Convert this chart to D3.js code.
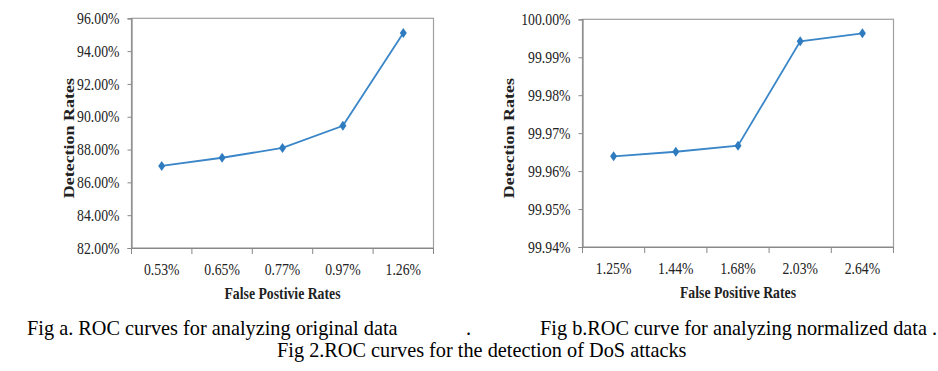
<!DOCTYPE html>
<html>
<head>
<meta charset="utf-8">
<script src="https://cdn.jsdelivr.net/npm/d3@7"></script>
<style>
  body { margin: 0; background: #fff; }
  svg { display: block; font-family: "Liberation Serif", "Times New Roman", serif; }
  .squeeze { transform-box: fill-box; }
</style>
</head>
<body>
<div id="figure"></div>
<script>
// Fig a - original data
let fprA = ['0.53%', '0.65%', '0.77%', '0.97%', '1.26%'];
let detA = [87.0, 87.5, 88.1, 89.45, 95.1];
let yTicksA = [82, 84, 86, 88, 90, 92, 94, 96];

// Fig b - normalized data
let fprB = ['1.25%', '1.44%', '1.68%', '2.03%', '2.64%'];
let detB = [99.9639, 99.9651, 99.9667, 99.9942, 99.9963];
let yTicksB = [99.94, 99.95, 99.96, 99.97, 99.98, 99.99, 100.00];

let captionA = 'Fig a. ROC curves for analyzing original data';
let captionB = 'Fig b.ROC curve for analyzing normalized data .';
let captionMain = 'Fig 2.ROC curves for the detection of DoS attacks';

let serif = 'Liberation Serif, Times New Roman, serif';

let svg = d3.select('#figure')
    .append('svg')
    .attr('width', 938)
    .attr('height', 371);

svg.append('rect').attr('width', 938).attr('height', 371).attr('fill', '#fff');

function squeeze(sel, origin) {
    sel.classed('squeeze', true)
        .style('transform-origin', origin)
        .style('transform', 'scaleX(0.86)');
}

function rocChart(cats, values, yTicks, box, xTitle) {
    let x = d3.scaleBand()
        .domain(cats)
        .range([box.left, box.right]);
    let y = d3.scaleLinear()
        .domain([yTicks[0], yTicks[yTicks.length - 1]])
        .range([box.bottom, box.top]);

    let g = svg.append('g');

    // plot border
    g.append('rect')
        .attr('x', box.left)
        .attr('y', box.top)
        .attr('width', box.right - box.left)
        .attr('height', box.bottom - box.top)
        .attr('fill', 'none')
        .style('stroke', '#a0a0a0')
        .style('stroke-width', 1.2);

    // y axis
    let yAxis = d3.axisLeft(y)
        .tickValues(yTicks)
        .tickSize(4)
        .tickPadding(box.yPad)
        .tickFormat(d => d.toFixed(2) + '%');
    let yg = g.append('g')
        .attr('transform', `translate(${box.left},0)`)
        .call(yAxis)
        .attr('font-family', serif)
        .attr('font-size', 16);
    yg.select('.domain').style('stroke', '#888').style('stroke-width', 1.2);
    yg.selectAll('.tick line').style('stroke', '#888');
    yg.selectAll('.tick text')
        .style('fill', '#222')
        .call(squeeze, 'right center');

    // x axis: labels at band centres, ticks on band edges
    let xAxis = d3.axisBottom(x)
        .tickSize(0)
        .tickPadding(16);
    let xg = g.append('g')
        .attr('transform', `translate(0,${box.bottom})`)
        .call(xAxis)
        .attr('font-family', serif)
        .attr('font-size', 16);
    xg.select('.domain').style('stroke', '#888').style('stroke-width', 1.2);
    xg.selectAll('.tick text')
        .style('fill', '#222')
        .call(squeeze, 'center');
    let edges = cats.map(c => x(c)).concat([x.range()[1]]);
    xg.selectAll('line.edge')
        .data(edges)
        .enter().append('line')
        .attr('class', 'edge')
        .attr('x1', d => d)
        .attr('x2', d => d)
        .attr('y1', 0)
        .attr('y2', 6)
        .style('stroke', '#888');

    // line + diamond markers
    let line = d3.line()
        .x((d, i) => x(cats[i]) + x.bandwidth() / 2)
        .y(d => y(d));
    g.append('path')
        .datum(values)
        .attr('d', line)
        .attr('fill', 'none')
        .style('stroke', '#3a86c8')
        .style('stroke-width', 1.8);
    g.selectAll('path.marker')
        .data(values)
        .enter().append('path')
        .attr('class', 'marker')
        .attr('d', 'M0,-5 L3.5,0 L0,5 L-3.5,0 Z')
        .attr('transform', (d, i) => `translate(${x(cats[i]) + x.bandwidth() / 2},${y(d)})`)
        .attr('fill', '#2f7bc0');

    // axis titles (rotated one squeezed across its height, like the scan)
    g.append('text')
        .attr('transform', `translate(${box.yTitleX},${(box.top + box.bottom) / 2 + 5}) rotate(-90) scale(1,0.82)`)
        .attr('text-anchor', 'middle')
        .style('font-size', '18px')
        .style('font-weight', 'bold')
        .style('fill', '#222')
        .text('Detection Rates');
    g.append('text')
        .attr('x', (box.left + box.right) / 2)
        .attr('y', box.bottom + 51)
        .attr('text-anchor', 'middle')
        .style('font-size', '16px')
        .style('font-weight', 'bold')
        .style('fill', '#222')
        .text(xTitle)
        .call(squeeze, 'center');
}

rocChart(fprA, detA, yTicksA,
    {left: 131.5, right: 433.5, top: 18.3, bottom: 248, yPad: 8, yTitleX: 74},
    'False Postivie Rates');
rocChart(fprB, detB, yTicksB,
    {left: 582.5, right: 893.5, top: 19.3, bottom: 247, yPad: 8, yTitleX: 514},
    'False Positive Rates');

// captions
let cap = svg.append('g')
    .style('font-size', '20.3px')
    .style('fill', '#000');
cap.append('text').attr('x', 27).attr('y', 335).text(captionA);
cap.append('text').attr('x', 466).attr('y', 335).text('.');
cap.append('text').attr('x', 540).attr('y', 335).text(captionB);
cap.append('text').attr('x', 277).attr('y', 357).text(captionMain);
</script>
</body>
</html>
